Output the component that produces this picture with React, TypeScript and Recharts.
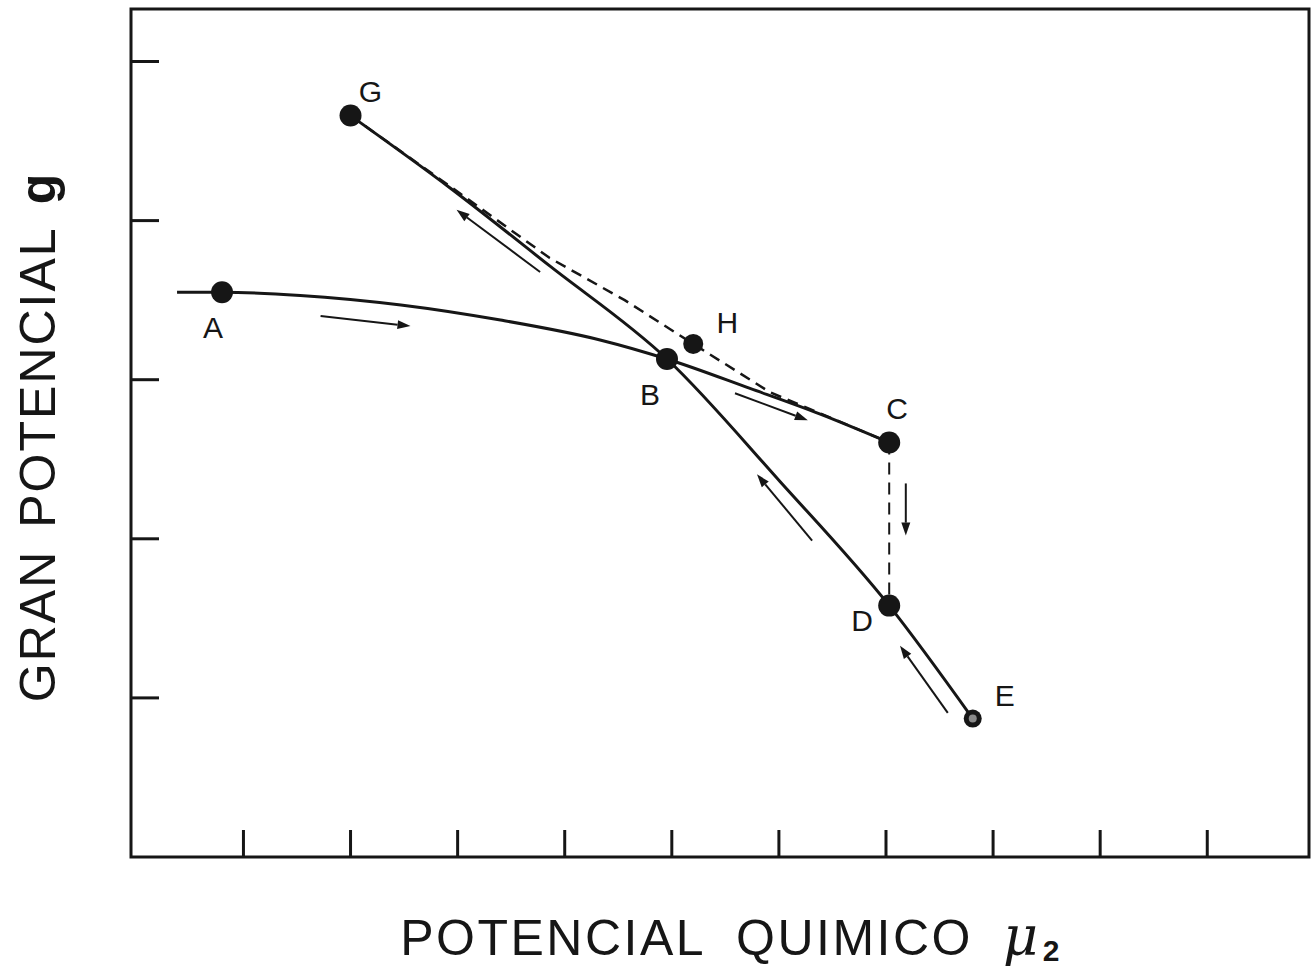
import { ComposedChart, Line, Scatter, XAxis, YAxis, ReferenceArea, ReferenceLine, Label } from 'recharts';

// axis ranges and tick positions (no tick labels in the original figure)
const xDomain = [-0.05, 10.95];
const yDomain = [0, 5.33];
const xTicks = [1, 2, 3, 4, 5, 6, 7, 8, 9, 10];
const yTicks = [1, 2, 3, 4, 5];

// curve through A, B and C
const curveABC = [
  { x: 0.38, y: 3.55 },
  { x: 0.8, y: 3.55 },
  { x: 1.53, y: 3.53 },
  { x: 2.47, y: 3.47 },
  { x: 3.4, y: 3.375 },
  { x: 4.33, y: 3.25 },
  { x: 4.955, y: 3.13 },
  { x: 5.73, y: 2.945 },
  { x: 6.38, y: 2.785 },
  { x: 7.03, y: 2.605 },
];

// curve through G, B, D and E
const curveGBDE = [
  { x: 2.0, y: 4.66 },
  { x: 2.93, y: 4.205 },
  { x: 3.86, y: 3.715 },
  { x: 4.955, y: 3.13 },
  { x: 6.01, y: 2.36 },
  { x: 7.03, y: 1.58 },
  { x: 7.81, y: 0.87 },
];

// dashed path G -> H -> C
const dashedGHC = [
  { x: 2.0, y: 4.66 },
  { x: 2.93, y: 4.215 },
  { x: 3.86, y: 3.765 },
  { x: 4.56, y: 3.5 },
  { x: 5.2, y: 3.225 },
  { x: 5.92, y: 2.92 },
  { x: 7.03, y: 2.605 },
];

// dashed jump C -> D
const dashedCD = [
  { x: 7.03, y: 2.605 },
  { x: 7.03, y: 1.58 },
];

const points = [
  { name: 'G', x: 2.0, y: 4.66 },
  { name: 'A', x: 0.8, y: 3.55 },
  { name: 'H', x: 5.2, y: 3.225 },
  { name: 'B', x: 4.955, y: 3.13 },
  { name: 'C', x: 7.03, y: 2.605 },
  { name: 'D', x: 7.03, y: 1.58 },
  { name: 'E', x: 7.81, y: 0.87 },
];

// direction arrows: tail -> head
const arrows = [
  { from: { x: 1.72, y: 3.4 }, to: { x: 2.56, y: 3.337 } },
  { from: { x: 3.77, y: 3.677 }, to: { x: 2.99, y: 4.068 } },
  { from: { x: 5.59, y: 2.915 }, to: { x: 6.27, y: 2.745 } },
  { from: { x: 7.185, y: 2.348 }, to: { x: 7.185, y: 2.02 } },
  { from: { x: 6.31, y: 1.989 }, to: { x: 5.795, y: 2.405 } },
  { from: { x: 7.577, y: 0.906 }, to: { x: 7.131, y: 1.328 } },
];

const INK = '#161616';
const FONT = '"Liberation Sans", Arial, sans-serif';

// label placement relative to each marker (px)
const labelOffset: Record<string, [number, number]> = {
  G: [20, -14],
  A: [-9, 46],
  H: [34, -11],
  B: [-17, 46],
  C: [8, -24],
  D: [-27, 25],
  E: [32, -13],
};

const PointShape = (props: any) => {
  const { cx, cy, payload } = props;
  const [dx, dy] = labelOffset[payload.name] || [0, 0];
  const small = payload.name === 'E';
  return (
    <g>
      <circle cx={cx} cy={cy} r={small ? 9 : payload.name === 'H' ? 10 : 11} fill={INK} />
      {small && <circle cx={cx} cy={cy} r={4} fill="#8a8a8a" />}
      <text x={cx + dx} y={cy + dy} textAnchor="middle" fontSize={30} fontFamily={FONT} fill={INK}>
        {payload.name}
      </text>
    </g>
  );
};

const ArrowShape = (props: any) => {
  const { x1, y1, x2, y2 } = props;
  const a = Math.atan2(y2 - y1, x2 - x1);
  const len = 13;
  const half = 4.5;
  const bx = x2 - len * Math.cos(a);
  const by = y2 - len * Math.sin(a);
  const px = half * Math.sin(a);
  const py = half * Math.cos(a);
  return (
    <g>
      <line x1={x1} y1={y1} x2={bx} y2={by} stroke={INK} strokeWidth={2} />
      <polygon points={`${x2},${y2} ${bx + px},${by - py} ${bx - px},${by + py}`} fill={INK} />
    </g>
  );
};

const NoTick = () => <g />;

const XTitle = (props: any) => {
  const { x, y, width } = props.viewBox;
  return (
    <text x={x + width / 2 + 11} y={y + 98} textAnchor="middle" fontFamily={FONT} fontSize={50} fill={INK} style={{ letterSpacing: 2.5 }}>
      POTENCIAL
      <tspan dx={30}>QUIMICO</tspan>
      <tspan dx={30} fontStyle="italic" fontFamily='"DejaVu Serif", serif' fontSize={54}>μ</tspan>
      <tspan dx={2} dy={6} fontWeight="bold" fontSize={30}>2</tspan>
    </text>
  );
};

const YTitle = (props: any) => {
  const { y, height } = props.viewBox;
  const cx = 55;
  const cy = y + height / 2 + 4;
  return (
    <text x={cx} y={cy} textAnchor="middle" transform={`rotate(-90 ${cx} ${cy})`} fontFamily={FONT} fontSize={50} fill={INK} style={{ letterSpacing: 2 }}>
      GRAN
      <tspan dx={22}>POTENCIAL</tspan>
      <tspan dx={22} fontWeight="bold">g</tspan>
    </text>
  );
};

export default function App() {
  return (
    <div style={{ position: 'absolute', left: 0, top: 0, background: '#fff' }}>
      <ComposedChart width={1313} height={971} margin={{ top: 9, right: 4, bottom: 113, left: 130 }}>
        <XAxis
          type="number"
          dataKey="x"
          domain={xDomain}
          ticks={xTicks}
          allowDataOverflow
          height={1}
          axisLine={false}
          tickSize={-27}
          tickLine={{ stroke: INK, strokeWidth: 3 }}
          tick={NoTick}
        >
          <Label content={XTitle} />
        </XAxis>
        <YAxis
          type="number"
          dataKey="y"
          domain={yDomain}
          ticks={yTicks}
          allowDataOverflow
          width={1}
          axisLine={false}
          tickSize={-28}
          tickLine={{ stroke: INK, strokeWidth: 3 }}
          tick={NoTick}
        >
          <Label content={YTitle} />
        </YAxis>
        <ReferenceArea x1={xDomain[0]} x2={xDomain[1]} y1={yDomain[0]} y2={yDomain[1]} fill="none" fillOpacity={0} stroke={INK} strokeWidth={3} />

        <Line data={dashedGHC} dataKey="y" type="linear" stroke={INK} strokeWidth={2.5} strokeDasharray="11 7" dot={false} isAnimationActive={false} />
        <Line data={dashedCD} dataKey="y" type="linear" stroke={INK} strokeWidth={2} strokeDasharray="12 8" dot={false} isAnimationActive={false} />
        <Line data={curveABC} dataKey="y" type="monotone" stroke={INK} strokeWidth={3} dot={false} isAnimationActive={false} />
        <Line data={curveGBDE} dataKey="y" type="monotone" stroke={INK} strokeWidth={3} dot={false} isAnimationActive={false} />

        {arrows.map((a, i) => (
          <ReferenceLine key={i} segment={[a.from, a.to]} shape={ArrowShape} />
        ))}

        <Scatter data={points} dataKey="y" shape={PointShape} isAnimationActive={false} />
      </ComposedChart>
    </div>
  );
}
